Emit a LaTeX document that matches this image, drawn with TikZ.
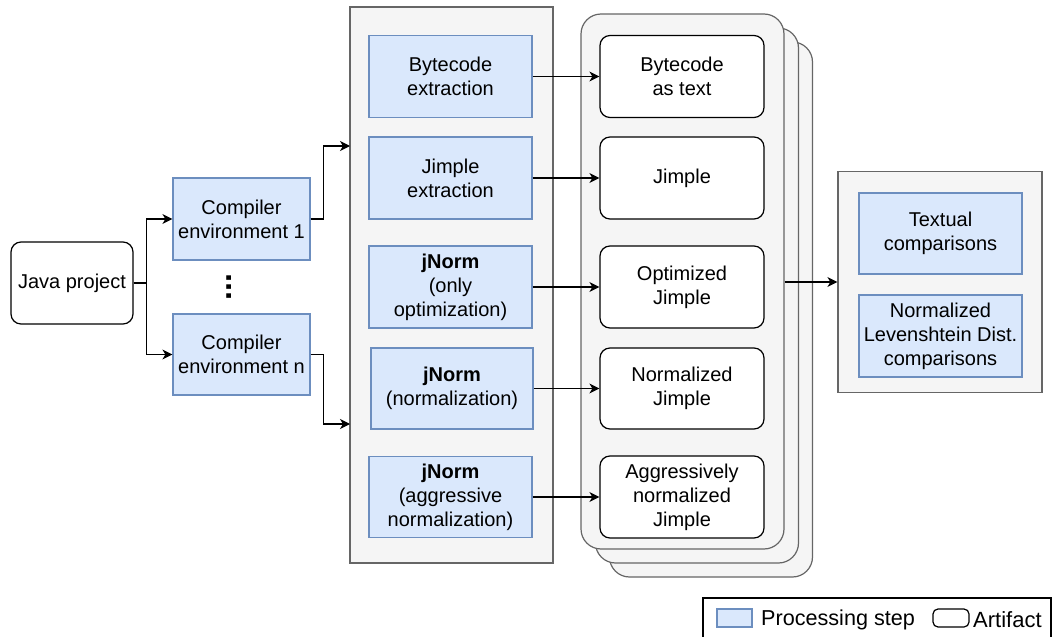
\documentclass[tikz,border=0pt]{standalone}
\usepackage{fontspec}
\setmainfont{Liberation Sans}
\usetikzlibrary{arrows.meta}

\definecolor{procfill}{HTML}{DAE8FC}
\definecolor{procline}{HTML}{6C8EBF}
\definecolor{grpfill}{HTML}{F5F5F5}
\definecolor{grpline}{HTML}{666666}

\begin{document}
\begin{tikzpicture} [x=0.5pt, y=-0.5pt, align=center, line width=0.6pt,
  font=\fontsize{10}{12}\selectfont,
  >={Stealth[length=5pt, width=5pt, inset=1.5pt]},
  proc/.style={draw=procline, fill=procfill, inner sep=1pt, minimum width=81.5pt, minimum height=41pt},
  artifact/.style={draw, fill=white, rounded corners=5pt, inner sep=1pt, minimum width=82pt, minimum height=41pt},
  group/.style={draw=grpline, fill=grpfill},
  card/.style={group, rounded corners=10pt, minimum width=101.5pt, minimum height=267.5pt}]
\useasboundingbox (0, 0) rectangle (1057, 637);

% input side
\path (72, 283) node[draw, rounded corners=5pt, inner sep=1pt, minimum width=61pt, minimum height=41pt] (java) {Java project}
      (241.5, 219) node[proc, minimum width=68.5pt] (env1) {Compiler\\environment 1}
      (241.5, 354.5) node[proc, minimum width=68.5pt, minimum height=40.5pt] (envn) {Compiler\\environment n}
      (229, 287) node[rotate=90, inner sep=0pt] (dots) {\fontsize{16}{16}\selectfont\textbf{...}};

% extraction steps
\path (451.5, 285) node[group, minimum width=101.5pt, minimum height=278pt] (grp1) {}
      (350, 146) coordinate (grpin1)
      (350, 424) coordinate (grpin2);
\path (450.5, 76.5) node[proc] (bcx) {Bytecode\\extraction}
      (450.5, 178) node[proc] (jmx) {Jimple\\extraction}
      (450.5, 287) node[proc] (jn1) {\textbf{jNorm}\\(only\\optimization)}
      (452, 388.5) node[proc, minimum width=81pt, minimum height=40.5pt] (jn2) {\textbf{jNorm}\\(normalization)}
      (450.5, 497) node[proc, minimum height=40.5pt] (jn3) {\textbf{jNorm}\\(aggressive\\normalization)};

% stacked artifacts
\path (711, 309.5) node[card] (card3) {}
      (697, 295.5) node[card] (card2) {}
      (682.5, 281.5) node[card] (card1) {};
\path (682, 76.5) node[artifact] (bct) {Bytecode\\as text}
      (682, 178) node[artifact] (jmt) {Jimple}
      (682, 287) node[artifact] (opt) {Optimized\\Jimple}
      (682, 388.5) node[artifact, minimum height=40.5pt] (nrm) {Normalized\\Jimple}
      (682, 497) node[artifact] (agg) {Aggressively\\normalized\\Jimple};

% comparisons
\path (940, 282) node[group, minimum width=102pt, minimum height=110.5pt] (grp2) {}
      (940.5, 233.5) node[proc, minimum height=40.5pt] (txt) {Textual\\comparisons}
      (940.5, 336) node[proc] (lev) {Normalized\\Levenshtein Dist.\\comparisons};

\draw[->] (java.east) -- ++(13, 0) |- (env1);
\draw[->] (java.east) -- ++(13, 0) |- (envn);
\draw[->] (env1.east) -- ++(13, 0) |- (grpin1);
\draw[->] (envn.east) -- ++(13, 0) |- (grpin2);
\draw[->] (bcx) -- (bct);
\draw[->] (jmx) -- (jmt);
\draw[->] (jn1) -- (opt);
\draw[->] (jn2.east) -- (jn2.east -| nrm.west);
\draw[->] (jn3) -- (agg);
\draw[->] (grp2.west -| card1.east) -- (grp2.west);

% legend
\path (877, 619) node[draw, minimum width=174pt, minimum height=21pt] (legend) {}
      (734.5, 618) node[draw=procline, fill=procfill, minimum width=17.5pt, minimum height=9pt, inner sep=0pt] (lgproc) {}
      (lgproc.east) node[anchor=west, inner sep=4pt, yshift=-1pt, font=\fontsize{10.8}{12}\selectfont] (lgproctxt) {Processing step}
      (951, 618) node[draw, rounded corners=2.5pt, minimum width=18pt, minimum height=9pt, inner sep=0pt] (lgart) {}
      (lgart.east) node[anchor=west, inner sep=1.5pt, yshift=-1pt, font=\fontsize{11}{12}\selectfont] (lgarttxt) {Artifact};
\end{tikzpicture}
\end{document}
